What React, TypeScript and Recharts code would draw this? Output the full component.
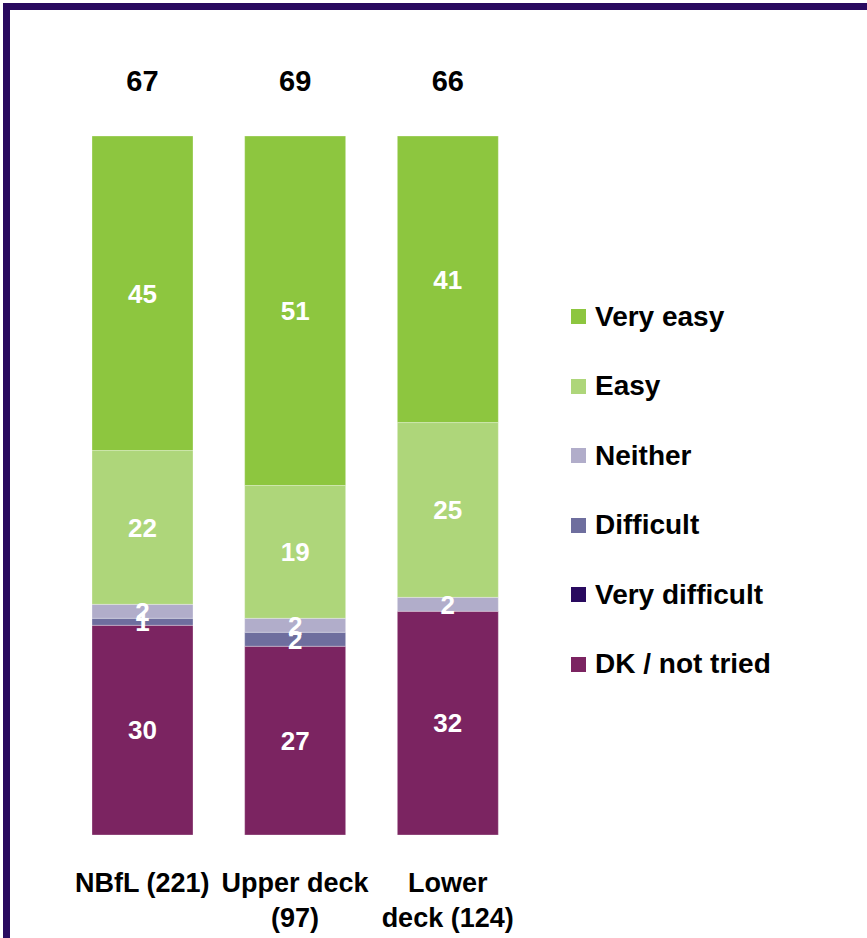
import { BarChart, Bar, XAxis, YAxis, LabelList, Legend } from "recharts";

const categories = ["NBfL (221)", "Upper deck\n(97)", "Lower\ndeck (124)"];
const veryEasy = [45, 51, 41];
const easy = [22, 19, 25];
const neither = [2, 2, 2];
const difficult = [1, 2, 0];
const veryDifficult = [0, 0, 0];
const dkNotTried = [30, 27, 32];
const netEasy = [67, 69, 66];

// stacked bottom -> top
const series = [
  { key: "dk", name: "DK / not tried", color: "#7B2461" },
  { key: "veryDifficult", name: "Very difficult", color: "#290A5F" },
  { key: "difficult", name: "Difficult", color: "#6E6E9E" },
  { key: "neither", name: "Neither", color: "#B1ADCA" },
  { key: "easy", name: "Easy", color: "#AED67A" },
  { key: "veryEasy", name: "Very easy", color: "#8DC63F" },
];

const data = categories.map((name, i) => ({
  name,
  dk: dkNotTried[i],
  veryDifficult: veryDifficult[i],
  difficult: difficult[i],
  neither: neither[i],
  easy: easy[i],
  veryEasy: veryEasy[i],
  net: netEasy[i],
}));

const FONT = "'Liberation Sans', Arial, sans-serif";

function CategoryTick(props: any) {
  const { x, y, payload } = props;
  const lines = String(payload.value).split("\n");
  return (
    <text
      x={x}
      y={y}
      textAnchor="middle"
      fill="#000"
      fontSize={27}
      fontWeight="bold"
      fontFamily={FONT}
    >
      {lines.map((line, i) => (
        <tspan key={i} x={x} dy={i === 0 ? 55 : 35}>
          {line}
        </tspan>
      ))}
    </text>
  );
}

function NetLabel(props: any) {
  const vb = props.viewBox ?? props;
  return (
    <text
      x={vb.x + vb.width / 2}
      y={91}
      textAnchor="middle"
      fill="#000"
      fontSize={29}
      fontWeight="bold"
      fontFamily={FONT}
    >
      {props.value}
    </text>
  );
}

function LegendList(props: any) {
  const payload = props.payload || [];
  // legend lists top of stack first
  const items = [...series]
    .reverse()
    .map((s) => payload.find((p: any) => p.value === s.name) || { value: s.name, color: s.color });
  return (
    <div style={{ fontFamily: FONT }}>
      {items.map((item: any) => (
        <div
          key={item.value}
          style={{ display: "flex", alignItems: "center", height: 69.5 }}
        >
          <span
            style={{
              width: 15,
              height: 15,
              background: item.color,
              display: "inline-block",
              marginRight: 9,
            }}
          />
          <span style={{ fontSize: 28, fontWeight: "bold", color: "#000" }}>
            {item.value}
          </span>
        </div>
      ))}
    </div>
  );
}

export default function App() {
  return (
    <div
      style={{
        position: "absolute",
        left: 0,
        top: 0,
        width: 867,
        height: 938,
        background: "#fff",
        overflow: "hidden",
        fontFamily: FONT,
      }}
    >
      <div
        style={{
          position: "absolute",
          left: 3,
          top: 3,
          right: -10,
          bottom: -10,
          borderLeft: "7px solid #290A5F",
          borderTop: "7px solid #290A5F",
        }}
      />
      <BarChart
        width={867}
        height={938}
        data={data}
        margin={{ top: 136, right: 343, bottom: 23, left: 66 }}
        style={{ position: "absolute", left: 0, top: 0 }}
      >
        <XAxis
          dataKey="name"
          axisLine={false}
          tickLine={false}
          tickSize={0}
          height={80}
          interval={0}
          tick={<CategoryTick />}
        />
        <YAxis hide domain={[0, 100]} allowDataOverflow />
        <Legend
          layout="vertical"
          align="center"
          verticalAlign="middle"
          content={<LegendList />}
          wrapperStyle={{ left: 571, top: 282, width: 290 }}
        />
        {series.map((s) => (
          <Bar
            key={s.key}
            dataKey={s.key}
            name={s.name}
            stackId="a"
            fill={s.color}
            barSize={101}
            stroke="#ffffff"
            strokeOpacity={0.3}
            strokeWidth={1}
            isAnimationActive={false}
          >
            <LabelList
              dataKey={s.key}
              position="center"
              fill="#ffffff"
              fontSize={26}
              fontWeight="bold"
              formatter={(v: any) => (v ? v : "")}
            />
            {s.key === "veryEasy" && (
              <LabelList dataKey="net" content={<NetLabel />} />
            )}
          </Bar>
        ))}
      </BarChart>
    </div>
  );
}
